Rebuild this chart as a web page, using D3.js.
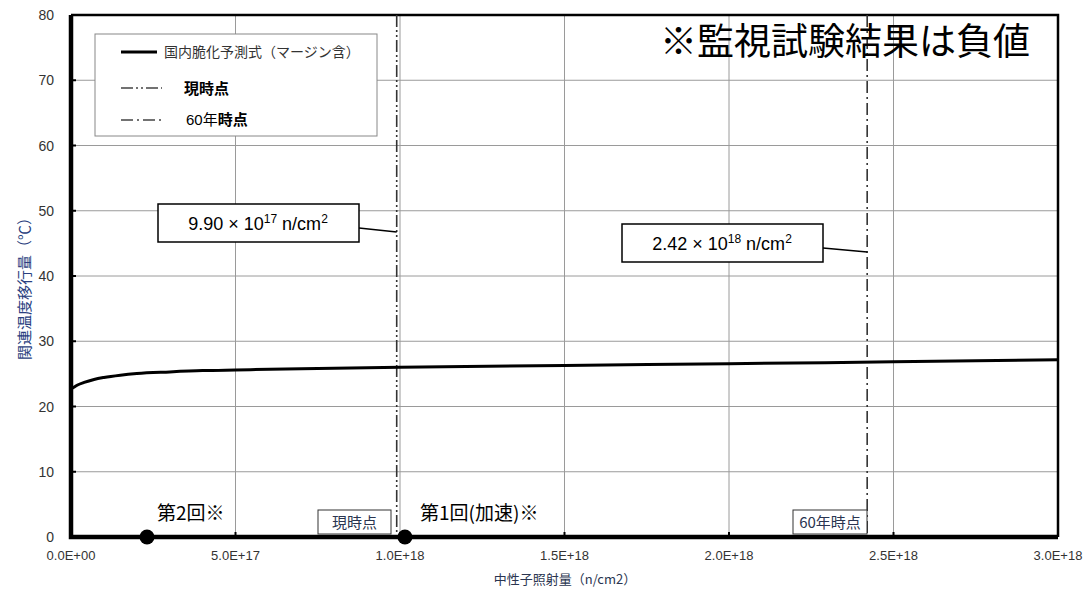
<!DOCTYPE html>
<html>
<head>
<meta charset="utf-8">
<script src="https://cdn.jsdelivr.net/npm/d3@7"></script>
<style>
  body { margin: 0; background: #fff; }
  svg text { font-family: "Liberation Sans", Arial, "Noto Sans CJK JP", sans-serif; }
  .jp { font-family: "Noto Sans CJK JP", sans-serif; }
</style>
</head>
<body>
<svg id="chart" width="1086" height="590"></svg>
<script>
// fluence (n/cm2) and predicted shift (degC)
var fluence = [0, 0.1e17, 0.2e17, 0.4e17, 0.7e17, 1e17, 1.5e17, 2e17, 3e17, 4e17, 5e17, 7e17, 10e17, 15e17, 20e17, 25e17, 30e17];
var shift   = [22.7, 23.0, 23.3, 23.7, 24.15, 24.45, 24.8, 25.05, 25.3, 25.5, 25.6, 25.78, 26.0, 26.3, 26.55, 26.85, 27.15];

var xTicks = [0, 5e17, 1e18, 1.5e18, 2e18, 2.5e18, 3e18];
var yTicks = [0, 10, 20, 30, 40, 50, 60, 70, 80];

// vertical markers
var markerNames = ["現時点", "60年時点"];
var markerFluence = [9.9e17, 2.42e18];
var markerMant = ["9.90", "2.42"];
var markerExp = ["17", "18"];

// test results (plotted on the axis, actual values negative)
var testNames = ["第2回※", "第1回(加速)※"];
var testFluence = [2.31e17, 1.015e18];

var svg = d3.select("#chart");
var m = {left: 71, right: 1058, top: 15, bottom: 537};

var x = d3.scaleLinear().domain([0, 3e18]).range([m.left, m.right]);
var y = d3.scaleLinear().domain([0, 80]).range([m.bottom, m.top]);

// grid
svg.append("g").selectAll("line").data(yTicks.slice(1, -1)).join("line")
  .attr("x1", m.left).attr("x2", m.right)
  .attr("y1", d => y(d)).attr("y2", d => y(d))
  .attr("stroke", "#9a9a9a").attr("stroke-width", 1);
svg.append("g").selectAll("line").data(xTicks.slice(1, -1)).join("line")
  .attr("y1", m.top).attr("y2", m.bottom)
  .attr("x1", d => x(d)).attr("x2", d => x(d))
  .attr("stroke", "#9a9a9a").attr("stroke-width", 1);

// small inner ticks
svg.append("g").selectAll("line").data(yTicks).join("line")
  .attr("x1", m.left).attr("x2", m.left + 5)
  .attr("y1", d => y(d)).attr("y2", d => y(d))
  .attr("stroke", "#000").attr("stroke-width", 2);
svg.append("g").selectAll("line").data(xTicks).join("line")
  .attr("y1", m.bottom).attr("y2", m.bottom - 5)
  .attr("x1", d => x(d)).attr("x2", d => x(d))
  .attr("stroke", "#000").attr("stroke-width", 2);

// top/right frame
svg.append("path")
  .attr("d", "M" + m.left + "," + m.top + "H" + m.right + "V" + m.bottom)
  .attr("fill", "none").attr("stroke", "#000").attr("stroke-width", 2.5);

// marker lines
var dashes = ["12,3,2,3,2,3", "12,4,2,4"];
markerFluence.forEach(function(f, i) {
  svg.append("line")
    .attr("x1", x(f)).attr("x2", x(f))
    .attr("y1", m.top).attr("y2", m.bottom)
    .attr("stroke", "#333").attr("stroke-width", 1.6)
    .attr("stroke-dasharray", dashes[i]);
});

// curve
var pts = fluence.map((f, i) => [f, shift[i]]);
svg.append("path").datum(pts)
  .attr("d", d3.line().x(d => x(d[0])).y(d => y(d[1])).curve(d3.curveMonotoneX))
  .attr("fill", "none").attr("stroke", "#000").attr("stroke-width", 3);

// thick left and bottom axes
svg.append("path")
  .attr("d", "M" + m.left + "," + m.top + "V" + m.bottom + "H" + m.right)
  .attr("fill", "none").attr("stroke", "#000").attr("stroke-width", 4.5);

// tick labels
svg.append("g").selectAll("text").data(yTicks).join("text")
  .attr("x", 54).attr("y", d => y(d) + 5)
  .attr("text-anchor", "end").attr("font-size", 14).attr("fill", "#333")
  .text(d => d);
svg.append("g").selectAll("text").data(xTicks).join("text")
  .attr("x", d => x(d)).attr("y", 560)
  .attr("text-anchor", "middle").attr("font-size", 13).attr("fill", "#333")
  .text(d => d === 0 ? "0.0E+00" : d3.format(".1e")(d).replace("e+", "E+").replace(/E\+(\d)$/, "E+0$1"));

// axis titles
svg.append("text").attr("class", "jp")
  .attr("x", 565).attr("y", 584).attr("text-anchor", "middle")
  .attr("font-size", 13).attr("fill", "#2a3550")
  .text("中性子照射量（n/cm2）");
svg.append("text").attr("class", "jp")
  .attr("transform", "translate(30,285) rotate(-90)")
  .attr("text-anchor", "middle").attr("font-size", 15).attr("fill", "#2a3f80")
  .text("関連温度移行量（℃）");

// legend
var lg = svg.append("g");
lg.append("rect").attr("x", 95).attr("y", 34).attr("width", 282).attr("height", 102)
  .attr("fill", "#fff").attr("stroke", "#888").attr("stroke-width", 1);
lg.append("line").attr("x1", 121).attr("x2", 157).attr("y1", 52).attr("y2", 52)
  .attr("stroke", "#000").attr("stroke-width", 3);
lg.append("text").attr("class", "jp").attr("x", 164).attr("y", 57)
  .attr("font-size", 14).attr("fill", "#333")
  .text("国内脆化予測式（マージン含）");
dashes.forEach(function(ds, i) {
  lg.append("line").attr("x1", 121).attr("x2", 162)
    .attr("y1", 88 + i * 32).attr("y2", 88 + i * 32)
    .attr("stroke", "#444").attr("stroke-width", 1.5).attr("stroke-dasharray", ds);
});
lg.append("text").attr("class", "jp").attr("x", 184).attr("y", 94)
  .attr("font-size", 15).attr("font-weight", "bold").attr("fill", "#000")
  .text("現時点");
var t60 = lg.append("text").attr("class", "jp").attr("x", 186).attr("y", 125)
  .attr("font-size", 15).attr("fill", "#000");
t60.append("tspan").attr("font-family", "Liberation Sans, sans-serif").text("60");
t60.append("tspan").text("年");
t60.append("tspan").attr("font-weight", "bold").text("時点");

// value callouts
var boxes = [{x: 158, y: 204}, {x: 622, y: 224}];
markerFluence.forEach(function(f, i) {
  var b = boxes[i];
  svg.append("line")
    .attr("x1", b.x + 201).attr("y1", b.y + 24)
    .attr("x2", x(f)).attr("y2", b.y + 28)
    .attr("stroke", "#000").attr("stroke-width", 1.5);
  svg.append("rect").attr("x", b.x).attr("y", b.y).attr("width", 201).attr("height", 38)
    .attr("fill", "#fff").attr("stroke", "#000").attr("stroke-width", 1.5);
  var t = svg.append("text").attr("x", b.x + 100).attr("y", b.y + 26)
    .attr("text-anchor", "middle").attr("font-size", 18).attr("fill", "#000");
  t.append("tspan").text(markerMant[i] + " × 10");
  t.append("tspan").attr("dy", -7).attr("font-size", 12).text(markerExp[i]);
  t.append("tspan").attr("dy", 7).text(" n/cm");
  t.append("tspan").attr("dy", -7).attr("font-size", 12).text("2");
});

// marker labels at bottom
var lblBoxes = [{x: 318, w: 73}, {x: 793, w: 74}];
markerNames.forEach(function(n, i) {
  var b = lblBoxes[i];
  svg.append("rect").attr("x", b.x).attr("y", 510).attr("width", b.w).attr("height", 24)
    .attr("fill", "#fff").attr("stroke", "#333").attr("stroke-width", 1);
  svg.append("text").attr("class", "jp").attr("x", b.x + b.w / 2).attr("y", 528)
    .attr("text-anchor", "middle").attr("font-size", 15).attr("fill", "#2a3550")
    .text(n);
});

// test points
svg.append("g").selectAll("circle").data(testFluence).join("circle")
  .attr("cx", d => x(d)).attr("cy", m.bottom).attr("r", 7.5).attr("fill", "#000");
var testLblX = [157, 420];
testNames.forEach(function(n, i) {
  svg.append("text").attr("class", "jp").attr("x", testLblX[i]).attr("y", 520)
    .attr("font-size", 19).attr("fill", "#000").text(n);
});

// note
svg.append("text").attr("class", "jp").attr("x", 660).attr("y", 55)
  .attr("font-size", 37).attr("fill", "#000")
  .text("※監視試験結果は負値");
</script>
</body>
</html>
